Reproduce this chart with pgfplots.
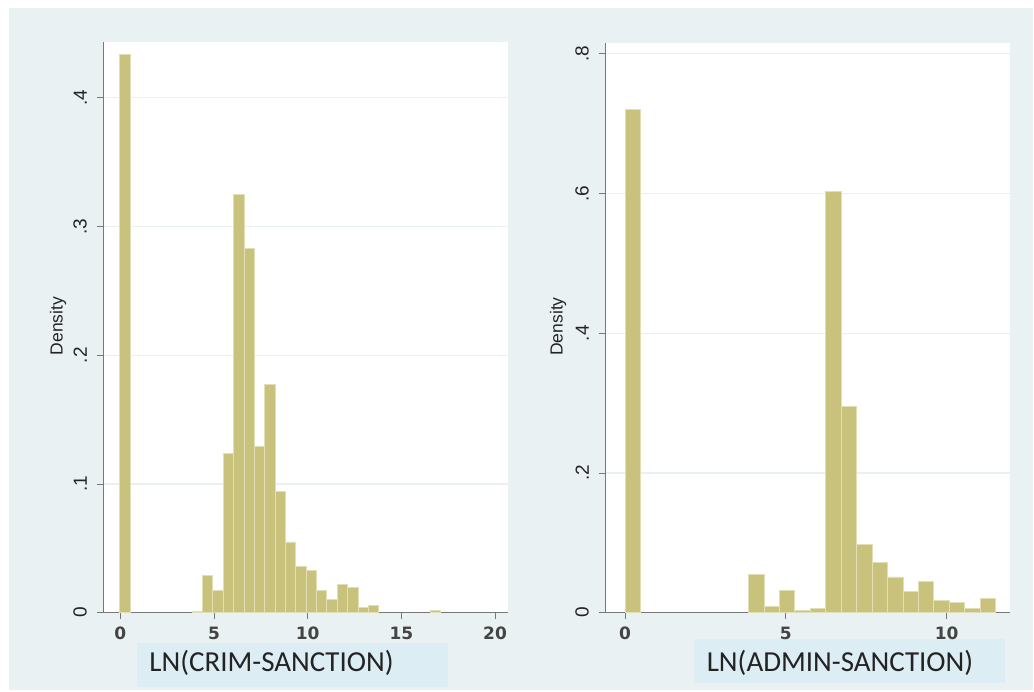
\documentclass[border=0pt]{standalone}
\usepackage{fontspec}
\setmainfont{Liberation Sans}
\newfontfamily\carlito{Carlito}
\newfontfamily\dejavu{DejaVu Sans}
\usepackage{pgfplots}
\pgfplotsset{compat=1.18}
\definecolor{barc}{RGB}{200,194,124}
\definecolor{baredge}{RGB}{226,222,182}
\definecolor{panel}{RGB}{234,241,243}
\definecolor{labbox}{RGB}{221,237,244}
\definecolor{gridc}{RGB}{232,240,243}
\definecolor{axcol}{RGB}{120,120,120}
\definecolor{txt}{RGB}{35,35,35}
\pgfplotsset{
  hist/.style={
    scale only axis,
    anchor=south west,
    axis lines=left,
    axis line style={axcol, line width=1pt, -},
    axis background/.style={fill=white},
    tick align=outside,
    major tick length=6pt,
    tick style={axcol, line width=0.8pt},
    ymajorgrids,
    major grid style={gridc, line width=1.2pt},
    /pgf/number format/assume math mode=true,
    xticklabel style={font=\dejavu\bfseries\fontsize{17}{17}\selectfont, text=txt!85!white, inner sep=0pt, anchor=north, yshift=-8pt},
    yticklabel style={font=\fontsize{19}{19}\selectfont, text=txt, inner sep=0pt, xshift=-10pt, rotate=90, anchor=south},
    ylabel style={font=\fontsize{17.5}{17.5}\selectfont, text=txt, anchor=center, rotate=0},
  }
}
\begin{document}
\begin{tikzpicture}
\fill[white] (0pt,0pt) rectangle (1034pt,692pt);
\fill[panel] (9pt,2pt) rectangle (1033pt,684pt);
\fill[labbox] (137pt,5pt) rectangle (448pt,49pt);
\fill[labbox] (694pt,9pt) rectangle (1005pt,53pt);
\node[font=\carlito\fontsize{29}{29}\selectfont, text=txt, anchor=base] at (271.5pt,20pt) {LN(CRIM-SANCTION)};
\node[font=\carlito\fontsize{29}{29}\selectfont, text=txt, anchor=base] at (840pt,20pt) {LN(ADMIN-SANCTION)};

\begin{axis}[hist, at={(103pt,79.3pt)}, width=405pt, height=570.7pt,
  xmin=-0.92, xmax=20.69, ymin=0, ymax=0.4434,
  xtick={0,5,10,15,20},
  ytick={0,0.1,0.2,0.3,0.4}, yticklabels={0,.1,.2,.3,.4},
  ylabel={Density}, ylabel style={at={(axis description cs:-0.111,0.5024)}}]
\addplot[ybar interval, fill=barc, draw=baredge, line width=0.6pt] coordinates {
(-0.04,0.434) (0.513,0)};
\addplot[ybar interval, fill=barc, draw=baredge, line width=0.6pt] coordinates {
(3.831,0.0012) (4.384,0.0292) (4.937,0.0176) (5.490,0.1235) (6.043,0.3252)
(6.596,0.2830) (7.149,0.1290) (7.702,0.1775) (8.255,0.0943) (8.808,0.0550)
(9.361,0.0362) (9.914,0.0331) (10.467,0.0176) (11.020,0.0103) (11.573,0.0222)
(12.126,0.0196) (12.679,0.0039) (13.232,0.0054) (13.785,0)};
\addplot[ybar interval, fill=barc, draw=baredge, line width=0.6pt] coordinates {
(16.550,0.0015) (17.103,0)};
\end{axis}

\begin{axis}[hist, at={(605pt,79.3pt)}, width=405pt, height=569.7pt,
  xmin=-0.62, xmax=11.97, ymin=0, ymax=0.8155,
  xtick={0,5,10},
  ytick={0,0.2,0.4,0.6,0.8}, yticklabels={0,.2,.4,.6,.8},
  ylabel={Density}, ylabel style={at={(axis description cs:-0.116,0.5024)}}]
\addplot[ybar interval, fill=barc, draw=baredge, line width=0.6pt] coordinates {
(0,0.720) (0.48,0)};
\addplot[ybar interval, fill=barc, draw=baredge, line width=0.6pt] coordinates {
(3.84,0.0546) (4.32,0.0095) (4.80,0.0318) (5.28,0.0033) (5.76,0.0067)
(6.24,0.6035) (6.72,0.2955) (7.20,0.0974) (7.68,0.0722) (8.16,0.0513)
(8.64,0.0309) (9.12,0.0447) (9.60,0.0176) (10.08,0.0143) (10.56,0.0067)
(11.04,0.0204) (11.52,0)};
\end{axis}
\end{tikzpicture}
\end{document}
